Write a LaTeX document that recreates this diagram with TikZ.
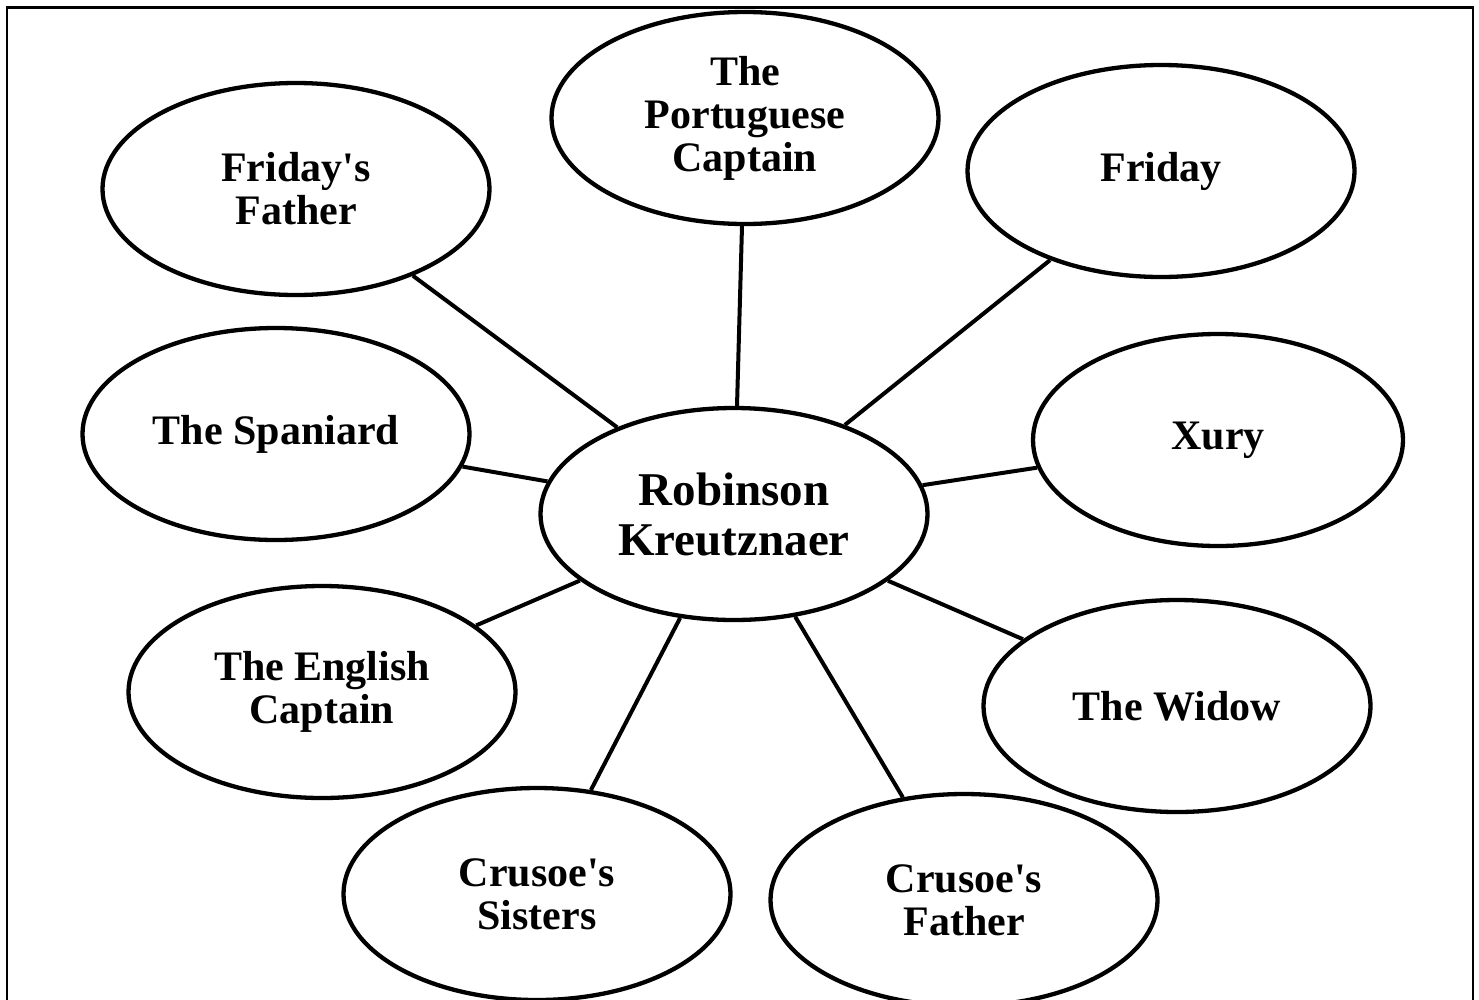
\documentclass[tikz,border=0pt]{standalone}
\usepackage{fontspec}
\setmainfont{Liberation Serif}
\usetikzlibrary{shapes.geometric}
\begin{document}
\begin{tikzpicture}[x=1pt,y=-1pt,
  person/.style={ellipse,draw,line width=4.3pt,minimum width=387pt,minimum height=212pt,inner sep=0pt,align=center,font=\bfseries\fontsize{42}{43}\selectfont},
  hub/.style={person,font=\bfseries\fontsize{47}{50}\selectfont},
  link/.style={line width=4pt}]
\useasboundingbox (0,0) rectangle (1479,999);
\draw[line width=2.8pt] (7,1005) -- (7,7.5) -- (1473,7.5) -- (1473,1005);
\node[hub] (rk) at (734,514) {Robinson\\Kreutznaer};
\node[person] (pc) at (745,118) {The\\Portuguese\\Captain};
\node[person] (ff) at (296,189) {Friday\textquotesingle s\\Father};
\node[person] (fr) at (1161,171) {Friday};
\node[person] (sp) at (276,434) {The Spaniard};
\node[person,minimum width=370pt] (xu) at (1218,440) {Xury};
\node[person] (ec) at (322,692) {The English\\Captain};
\node[person] (wi) at (1177,706) {The Widow};
\node[person] (cs) at (537,894) {Crusoe\textquotesingle s\\Sisters};
\node[person] (cf) at (964,900) {Crusoe\textquotesingle s\\Father};
\foreach \n in {pc,ff,fr,sp,xu,ec,wi,cs,cf}
  \draw[link] (rk) -- (\n);
\end{tikzpicture}
\end{document}
